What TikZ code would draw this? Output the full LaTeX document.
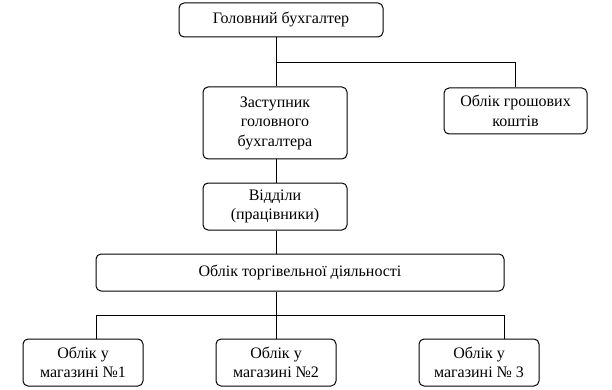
\documentclass[tikz,border=0pt]{standalone}
\usepackage{fontspec}
\setmainfont{Liberation Serif}
\usetikzlibrary{calc}

\begin{document}
\begin{tikzpicture}[x=1pt, y=-1pt, line width=1pt,
  unit/.style={draw, rounded corners=5pt, align=center, inner sep=0pt,
    font=\rmfamily\fontsize{16}{19.5}\selectfont},
  link/.style={-}
]

  \useasboundingbox (0,0) rectangle (612,390);

  % Top level
  \node[unit, minimum width=204pt, minimum height=34pt] (chief) at (281,20) {Головний бухгалтер};

  % Second level
  \node[unit, minimum width=144pt, minimum height=72pt] (deputy) at (275,123) {Заступник\\головного\\бухгалтера};
  \node[unit, minimum width=143pt, minimum height=46pt] (cash) at (515.5,111) {Облік грошових\\коштів};

  % Departments and trade accounting
  \node[unit, minimum width=144pt, minimum height=47pt] (depts) at (275,206.5) {Відділи\\(працівники)};
  \node[unit, minimum width=408pt, minimum height=37pt] (trade) at (300,272.5) {Облік торгівельної діяльності};

  % Shops
  \node[unit, minimum width=120pt, minimum height=47pt] (shop1) at (83,362.5) {Облік у\\магазині №1};
  \node[unit, minimum width=120pt, minimum height=47pt] (shop2) at (276,362.5) {Облік у\\магазині №2};
  \node[unit, minimum width=120pt, minimum height=47pt] (shop3) at (479,362.5) {Облік у\\магазині № 3};

  % Helper coordinates for the branches
  \coordinate (fork) at (276,63);
  \coordinate (busL) at (96,315);
  \coordinate (busR) at (504,315);

  % Upper connectors
  \draw[link] (chief.south -| fork) -- (fork |- deputy.north);
  \draw[link] (fork) -| (cash.north);
  \draw[link] (deputy.south -| fork) -- (fork |- depts.north);
  \draw[link] (depts.south -| fork) -- (fork |- trade.north);

  % Lower connectors
  \draw[link] (trade.south -| fork) -- (shop2.north -| fork);
  \draw[link] (busL |- shop1.north) -- (busL) -- (busR) -- (busR |- shop3.north);

\end{tikzpicture}
\end{document}
